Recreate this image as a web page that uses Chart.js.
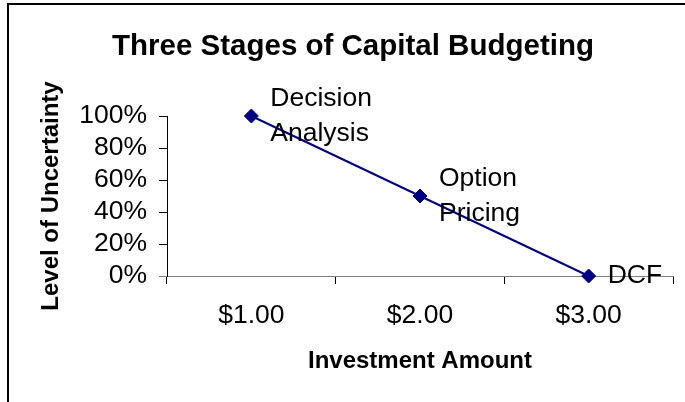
<!DOCTYPE html>
<html>
<head>
<meta charset="utf-8">
<title>Three Stages of Capital Budgeting</title>
<script src="https://cdn.jsdelivr.net/npm/chart.js@4.4.1/dist/chart.umd.min.js"></script>
<style>
  html, body { margin: 0; padding: 0; background: #fff; }
  #wrap { width: 685px; height: 402px; position: relative; }
</style>
</head>
<body>
<div id="wrap"><canvas id="stagesChart" width="685" height="402"></canvas></div>
<script>
// chart data
const investment = ["$1.00", "$2.00", "$3.00"];
const uncertainty = [1.0, 0.5, 0.0];
const stageNames = [["Decision", "Analysis"], ["Option", "Pricing"], ["DCF"]];
const yTickLabels = ["0%", "20%", "40%", "60%", "80%", "100%"];

const FONT = "'Liberation Sans', Arial, sans-serif";

// white page + the frame line round the chart object
const framePlugin = {
  id: "frame",
  beforeDraw(chart) {
    const ctx = chart.ctx;
    ctx.save();
    ctx.fillStyle = "#fff";
    ctx.fillRect(0, 0, chart.width, chart.height);
    ctx.strokeStyle = "#000";
    ctx.lineWidth = 2;
    ctx.strokeRect(8, 4, 900, 600);
    ctx.restore();
  }
};

// stage names written to the right of each point
const stageLabelPlugin = {
  id: "stageLabels",
  afterDatasetsDraw(chart) {
    const ctx = chart.ctx;
    const meta = chart.getDatasetMeta(0);
    ctx.save();
    ctx.font = "26.5px " + FONT;
    ctx.fillStyle = "#000";
    ctx.textAlign = "left";
    ctx.textBaseline = "middle";
    meta.data.forEach((pt, i) => {
      const lines = stageNames[i];
      const lh = 35;
      const startY = pt.y - (lines.length - 1) * lh / 2;
      lines.forEach((t, j) => ctx.fillText(t, pt.x + 19, startY + j * lh));
    });
    ctx.restore();
  }
};

new Chart(document.getElementById("stagesChart"), {
  type: "line",
  data: {
    labels: investment,
    datasets: [{
      data: uncertainty,
      borderColor: "#000080",
      backgroundColor: "#000080",
      borderWidth: 2,
      pointStyle: "rectRot",
      pointRadius: 7,
      pointBorderWidth: 1,
      pointBackgroundColor: "#000080",
      pointBorderColor: "#000080",
      tension: 0,
      clip: false
    }]
  },
  options: {
    responsive: false,
    animation: false,
    devicePixelRatio: 1,
    layout: { padding: { left: 33, right: 12, top: 0, bottom: 0 } },
    plugins: {
      legend: { display: false },
      tooltip: { enabled: false },
      title: {
        display: true,
        text: "Three Stages of Capital Budgeting",
        color: "#000",
        font: { family: FONT, size: 29.5, weight: "bold", lineHeight: 1.2 },
        padding: { top: 29.3, bottom: 51.3 }
      }
    },
    scales: {
      x: {
        offset: true,
        afterFit(s) { s.height = 126; },
        border: { color: "#808080", width: 1 },
        grid: {
          offset: true,
          drawOnChartArea: false,
          drawTicks: true,
          tickLength: 8,
          color: "#000"
        },
        ticks: {
          color: "#000",
          padding: 16,
          font: { family: FONT, size: 26.5, lineHeight: 1.2 }
        },
        title: {
          display: true,
          text: "Investment Amount",
          color: "#000",
          font: { family: FONT, size: 24, weight: "bold", lineHeight: 1.2 },
          padding: { top: 0, bottom: 26.6 }
        }
      },
      y: {
        min: 0,
        max: 1,
        afterFit(s) { s.width = 134; },
        border: { color: "#000", width: 1 },
        grid: {
          drawOnChartArea: false,
          drawTicks: true,
          tickLength: 8,
          color: (c) => (c.tick && c.tick.value === 0 ? "#808080" : "#000")
        },
        ticks: {
          stepSize: 0.2,
          autoSkip: false,
          color: "#000",
          padding: 12,
          font: { family: FONT, size: 26.5, lineHeight: 1 },
          callback: (v, i) => yTickLabels[i]
        },
        title: {
          display: true,
          text: "Level of Uncertainty",
          color: "#000",
          font: { family: FONT, size: 24, weight: "bold", lineHeight: 1.2 },
          padding: { top: 3.6, bottom: 0 }
        }
      }
    }
  },
  plugins: [framePlugin, stageLabelPlugin]
});
</script>
</body>
</html>
